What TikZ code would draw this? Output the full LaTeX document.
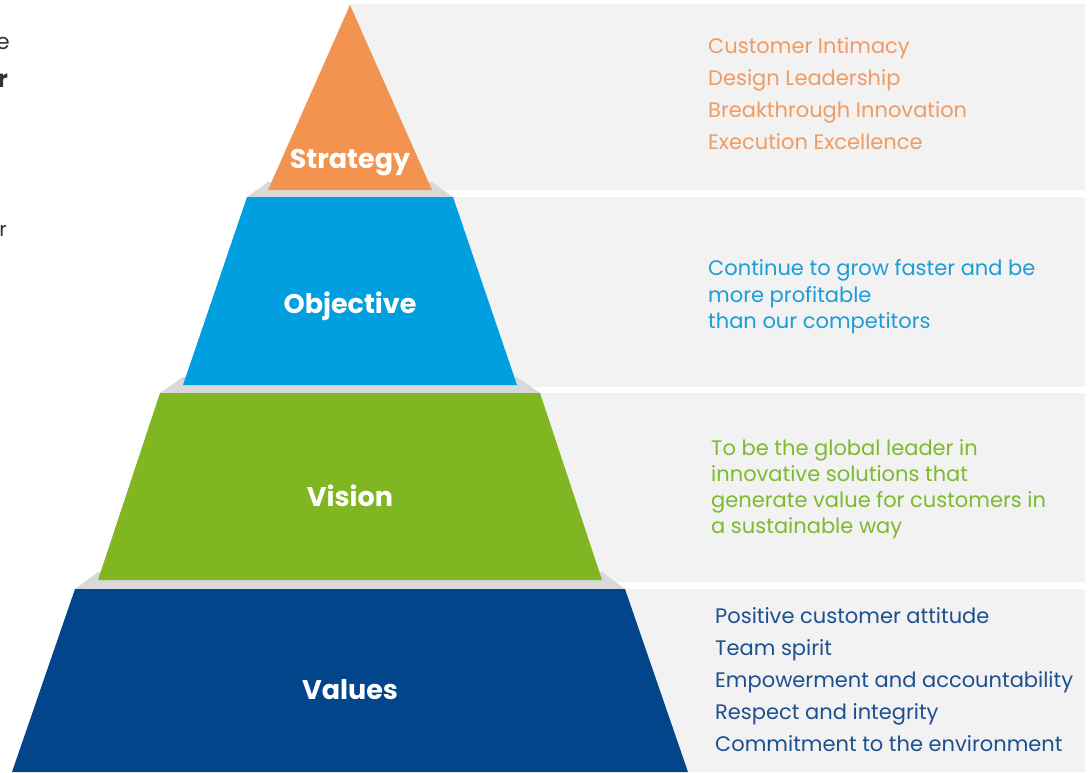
\documentclass[tikz,border=0pt]{standalone}
\usepackage{fontspec}
\setmainfont{Poppins}
\usepackage{tikz}

\definecolor{panelgray}{HTML}{F2F2F2}
\definecolor{shelfgray}{HTML}{D9D9D9}
\definecolor{strategyorange}{HTML}{F2944F}
\definecolor{objectiveblue}{HTML}{009FDF}
\definecolor{visiongreen}{HTML}{7FB622}
\definecolor{valuesblue}{HTML}{03458A}
\definecolor{strategytext}{HTML}{EE9C62}
\definecolor{objectivetext}{HTML}{1B9DD9}
\definecolor{visiontext}{HTML}{7DBA2E}
\definecolor{valuestext}{HTML}{1E4F8F}
\definecolor{cuttext}{HTML}{333333}

\begin{document}
\begin{tikzpicture}[x=1pt,y=-1pt,
    levelname/.style={text=white,inner sep=0pt,font=\fontsize{27}{27}\selectfont\bfseries},
    listtext/.style={anchor=west,align=left,inner sep=0pt}]
    \useasboundingbox (0,0) rectangle (1091,772);

    % Draw panels
    \fill[panelgray] (348,4) rectangle (1085,190);
    \fill[panelgray] (350,197) rectangle (1085,387);
    \fill[panelgray] (350,393) rectangle (1085,582);
    \fill[panelgray] (350,589) rectangle (1085,772);

    % Draw shelves
    \fill[shelfgray] (247,197) -- (268,182) -- (432,182) -- (453,197) -- cycle;
    \fill[shelfgray] (160,393) -- (183,377) -- (517,377) -- (540,393) -- cycle;
    \fill[shelfgray] (75,589) -- (98,572) -- (602,572) -- (625,589) -- cycle;

    % Draw levels
    \fill[strategyorange] (350,5) -- (432,190) -- (268,190) -- cycle;
    \fill[objectiveblue] (247,197) -- (453,197) -- (517,385) -- (183,385) -- cycle;
    \fill[visiongreen] (160,393) -- (540,393) -- (602,580) -- (98,580) -- cycle;
    \fill[valuesblue] (75,589) -- (625,589) -- (688,772) -- (12,772) -- cycle;

    % Level names
    \node[levelname] (strategy) at (350,163) {Strategy};
    \node[levelname] (objective) at (350,306) {Objective};
    \node[levelname] (vision) at (350,496) {Vision};
    \node[levelname] (values) at (350,690) {Values};

    % Lists
    \node[listtext,text=strategytext,font=\fontsize{21}{32}\selectfont] (strategyList) at (708,94)
        {Customer Intimacy\\Design Leadership\\Breakthrough Innovation\\Execution Excellence};
    \node[listtext,text=objectivetext,font=\fontsize{21}{26.5}\selectfont] (objectiveList) at (708,297)
        {Continue to grow faster and be\\more profitable\\than our competitors};
    \node[listtext,text=visiontext,font=\fontsize{21}{26}\selectfont] (visionList) at (711,489)
        {To be the global leader in\\innovative solutions that\\generate value for customers in\\a sustainable way};
    \node[listtext,text=valuestext,font=\fontsize{21}{32}\selectfont] (valuesList) at (715,680)
        {Positive customer attitude\\Team spirit\\Empowerment and accountability\\Respect and integrity\\Commitment to the environment};

    % Cut-off text at the left edge
    \node[anchor=east,inner sep=0pt,text=cuttext,font=\fontsize{22}{22}\selectfont] (cutVe) at (10,43) {ve};
    \node[anchor=east,inner sep=0pt,text=cuttext,font=\fontsize{24}{24}\selectfont\bfseries] (cutR) at (8,81) {r};
    \node[anchor=east,inner sep=0pt,text=cuttext,font=\fontsize{20}{20}\selectfont] (cutRtwo) at (7,231) {r};
\end{tikzpicture}
\end{document}
